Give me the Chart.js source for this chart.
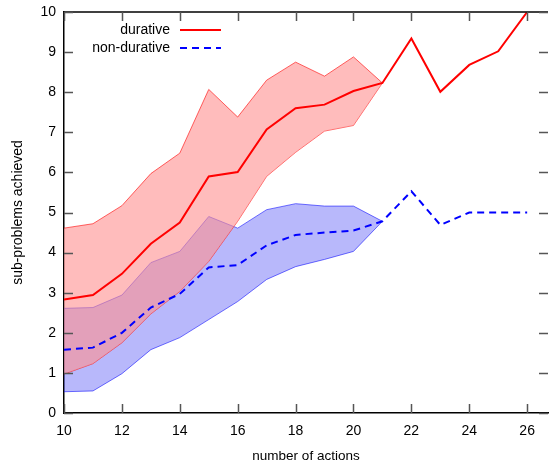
<!DOCTYPE html>
<html>
<head>
<meta charset="utf-8">
<script src="https://cdn.jsdelivr.net/npm/chart.js@4.4.1/dist/chart.umd.min.js"></script>
<style>
  html, body { margin: 0; padding: 0; background: #fff; }
  #wrap { width: 554px; height: 468px; }
</style>
</head>
<body>
<div id="wrap"><canvas id="chart" width="554" height="468"></canvas></div>
<script>
// --- data ---
const actions = [10, 11, 12, 13, 14, 15, 16, 17, 18, 19, 20, 21, 22, 23, 24, 25, 26];
const durativeMean = [2.83, 2.94, 3.47, 4.22, 4.75, 5.9, 6.01, 7.07, 7.6, 7.69, 8.03, 8.23, 9.34, 8.01, 8.68, 9.02, 10.0];
const nonDurativeMean = [1.58, 1.63, 2.0, 2.63, 2.97, 3.63, 3.69, 4.18, 4.44, 4.5, 4.55, 4.78, 5.53, 4.69, 5.0, 5.0, 5.0];

const bandActions = [10, 11, 12, 13, 14, 15, 16, 17, 18, 19, 20, 21];
const durativeUpper = [4.61, 4.72, 5.17, 5.97, 6.48, 8.07, 7.38, 8.3, 8.75, 8.4, 8.88, 8.23];
const durativeLower = [0.97, 1.23, 1.75, 2.47, 3.03, 3.78, 4.78, 5.9, 6.5, 7.03, 7.17, 8.23];
const nonDurativeUpper = [2.61, 2.63, 2.94, 3.75, 4.03, 4.9, 4.61, 5.07, 5.22, 5.16, 5.16, 4.78];
const nonDurativeLower = [0.53, 0.55, 0.98, 1.58, 1.88, 2.33, 2.78, 3.33, 3.65, 3.83, 4.03, 4.78];

const xTicks = [10, 12, 14, 16, 18, 20, 22, 24, 26];
const yTicks = [0, 1, 2, 3, 4, 5, 6, 7, 8, 9, 10];

const pts = (xs, ys) => xs.map((x, i) => ({ x: x, y: ys[i] }));
const FONT = "'Liberation Sans', Arial, sans-serif";

// --- gnuplot style: inward ticks, top border, legend with text on the left ---
const framePlugin = {
    id: "frame",
    afterDraw(chart) {
        const ctx = chart.ctx;
        const a = chart.chartArea;
        const xs = chart.scales.x, ys = chart.scales.y;
        ctx.save();
        ctx.strokeStyle = "#000";
        ctx.lineWidth = 1.5;
        ctx.beginPath();
        ctx.moveTo(a.left, a.top);
        ctx.lineTo(a.right, a.top);
        ctx.stroke();

        ctx.strokeStyle = "#555";
        ctx.lineWidth = 1.5;
        ctx.beginPath();
        xTicks.forEach(v => {
            const px = Math.round(xs.getPixelForValue(v)) + 0.5;
            ctx.moveTo(px, a.bottom); ctx.lineTo(px, a.bottom - 9);
            ctx.moveTo(px, a.top); ctx.lineTo(px, a.top + 9);
        });
        yTicks.forEach(v => {
            const py = Math.round(ys.getPixelForValue(v)) + 0.5;
            ctx.moveTo(a.left, py); ctx.lineTo(a.left + 9, py);
            ctx.moveTo(a.right, py); ctx.lineTo(a.right - 9, py);
        });
        ctx.stroke();

        // legend
        const items = [
            { text: "durative", color: "#ff0000", dash: [] },
            { text: "non-durative", color: "#0000ff", dash: [7, 5] }
        ];
        ctx.font = "14px " + FONT;
        ctx.textAlign = "right";
        ctx.textBaseline = "middle";
        items.forEach((it, i) => {
            const y = a.top + 18 + i * 18;
            ctx.fillStyle = "#000";
            ctx.fillText(it.text, a.left + 106, y);
            ctx.strokeStyle = it.color;
            ctx.lineWidth = 2;
            ctx.setLineDash(it.dash);
            ctx.beginPath();
            ctx.moveTo(a.left + 116, y);
            ctx.lineTo(a.left + 157, y);
            ctx.stroke();
        });
        ctx.restore();
    }
};

new Chart(document.getElementById("chart"), {
    type: "line",
    data: {
        datasets: [
            {
                label: "durative upper",
                data: pts(bandActions, durativeUpper),
                borderColor: "rgba(255,0,0,0.6)",
                borderWidth: 1,
                backgroundColor: "rgba(255,143,143,0.6)",
                fill: "+1",
                pointRadius: 0,
                tension: 0,
                order: 1
            },
            {
                label: "durative lower",
                data: pts(bandActions, durativeLower),
                borderColor: "rgba(255,0,0,0.6)",
                borderWidth: 1,
                fill: false,
                pointRadius: 0,
                tension: 0,
                order: 1
            },
            {
                label: "non-durative upper",
                data: pts(bandActions, nonDurativeUpper),
                borderColor: "rgba(0,0,255,0.55)",
                borderWidth: 1,
                backgroundColor: "rgba(0,0,240,0.28)",
                fill: "+1",
                pointRadius: 0,
                tension: 0,
                order: 2
            },
            {
                label: "non-durative lower",
                data: pts(bandActions, nonDurativeLower),
                borderColor: "rgba(0,0,255,0.55)",
                borderWidth: 1,
                fill: false,
                pointRadius: 0,
                tension: 0,
                order: 2
            },
            {
                label: "durative",
                data: pts(actions, durativeMean),
                borderColor: "#ff0000",
                borderWidth: 2,
                fill: false,
                pointRadius: 0,
                tension: 0,
                order: 0
            },
            {
                label: "non-durative",
                data: pts(actions, nonDurativeMean),
                borderColor: "#0000ff",
                borderWidth: 2,
                borderDash: [7, 5],
                fill: false,
                pointRadius: 0,
                tension: 0,
                order: 0
            }
        ]
    },
    options: {
        responsive: false,
        animation: false,
        layout: { padding: { left: 0, right: 6, top: 12, bottom: 0 } },
        plugins: {
            legend: { display: false },
            tooltip: { enabled: false }
        },
        scales: {
            x: {
                type: "linear",
                min: 10,
                max: 26.72,
                afterBuildTicks: s => { s.ticks = xTicks.map(v => ({ value: v })); },
                afterFit: s => { s.height = 55; s.paddingLeft = 0; s.paddingRight = 0; },
                grid: { display: false, drawTicks: false },
                border: { display: true, color: "#000", width: 1.5 },
                ticks: { color: "#000", font: { family: FONT, size: 14 }, padding: 10, maxRotation: 0 },
                title: { display: true, text: "number of actions", color: "#000", font: { family: FONT, size: 13.5 }, padding: { top: 4, bottom: 4 } }
            },
            y: {
                min: 0,
                max: 10,
                afterBuildTicks: s => { s.ticks = yTicks.map(v => ({ value: v })); },
                afterFit: s => { s.width = 64; s.paddingTop = 0; s.paddingBottom = 0; },
                grid: { display: false, drawTicks: false },
                border: { display: true, color: "#000", width: 1.5 },
                ticks: { color: "#000", font: { family: FONT, size: 14 }, padding: 8 },
                title: { display: true, text: "sub-problems achieved", color: "#000", font: { family: FONT, size: 14 }, padding: { top: 10, bottom: 0 } }
            }
        }
    },
    plugins: [framePlugin]
});
</script>
</body>
</html>
